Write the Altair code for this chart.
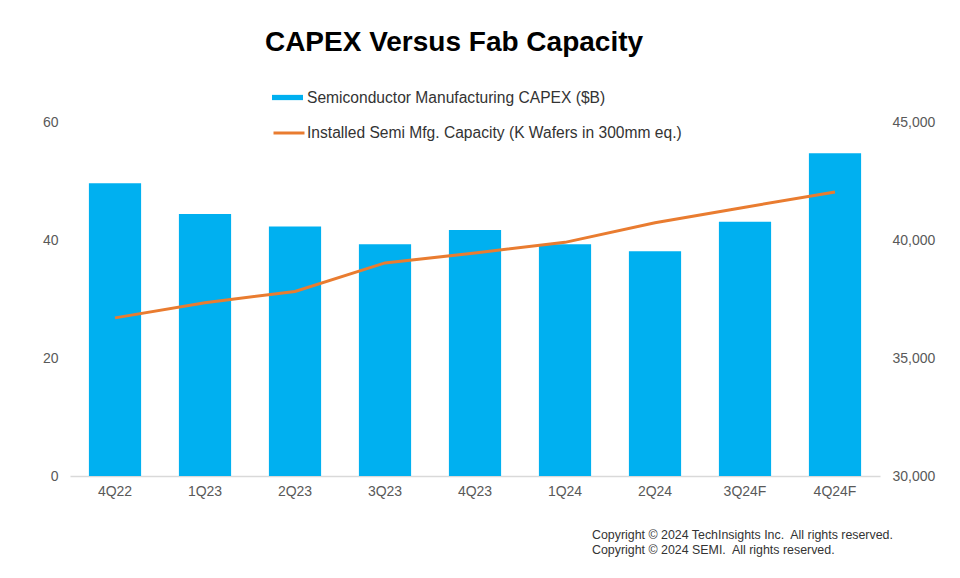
import altair as alt
import pandas as pd

quarters = ["4Q22", "1Q23", "2Q23", "3Q23", "4Q23", "1Q24", "2Q24", "3Q24F", "4Q24F"]
capex = [49.6, 44.4, 42.3, 39.3, 41.7, 39.3, 38.1, 43.1, 54.7]
capacity = [36700, 37340, 37820, 39030, 39450, 39900, 40730, 41390, 42030]
bar_label = "Semiconductor Manufacturing CAPEX ($B)"
line_label = "Installed Semi Mfg. Capacity (K Wafers in 300mm eq.)"
copyright_lines = [
    "Copyright \u00a9 2024 TechInsights Inc.\u00a0 All rights reserved.",
    "Copyright \u00a9 2024 SEMI.\u00a0 All rights reserved.",
]

FONT = "Liberation Sans"
BLUE = "#00B0F0"
ORANGE = "#E97C30"
LABEL = "#595959"

df = pd.DataFrame({
    "quarter": quarters,
    "capex": capex,
    "capacity": capacity,
    "bar_series": [bar_label] * len(quarters),
    "line_series": [line_label] * len(quarters),
})
cp = pd.DataFrame({"text": ["\n".join(copyright_lines)]})

x_enc = alt.X(
    "quarter:N", sort=quarters, title=None,
    scale=alt.Scale(paddingInner=0.42, paddingOuter=0.21),
    axis=alt.Axis(labelAngle=0, ticks=False, domain=True, domainColor="#D9D9D9",
                  domainWidth=1.5, labelColor=LABEL, labelFontSize=14, labelFont=FONT,
                  labelPadding=8, grid=False),
)

bars = alt.Chart(df).mark_bar(color=BLUE).encode(
    x=x_enc,
    y=alt.Y("capex:Q", title=None,
            scale=alt.Scale(domain=[0, 60], nice=False),
            axis=alt.Axis(values=[0, 20, 40, 60], grid=False, domain=False, ticks=False,
                          labelColor=LABEL, labelFontSize=14, labelFont=FONT, labelPadding=12,
                          orient="left")),
    fill=alt.Fill("bar_series:N",
                  scale=alt.Scale(domain=[bar_label], range=[BLUE]),
                  legend=alt.Legend(title=None, orient="none", legendX=202, legendY=-40,
                                    symbolType="M-1,-0.17H1V0.17H-1Z", symbolSize=961,
                                    symbolStrokeWidth=0, labelFontSize=15.6, labelFont=FONT,
                                    labelColor="#333333", labelOffset=4, padding=0,
                                    labelLimit=700)),
)

line = alt.Chart(df).mark_line(strokeWidth=3).encode(
    x=alt.X("quarter:N", sort=quarters),
    y=alt.Y("capacity:Q", title=None,
            scale=alt.Scale(domain=[30000, 45000], nice=False),
            axis=alt.Axis(values=[30000, 35000, 40000, 45000], format=",.0f", grid=False,
                          domain=False, ticks=False, labelColor=LABEL, labelFontSize=14,
                          labelFont=FONT, labelPadding=12, orient="right")),
    stroke=alt.Stroke("line_series:N",
                      scale=alt.Scale(domain=[line_label], range=[ORANGE]),
                      legend=alt.Legend(title=None, orient="none", legendX=202, legendY=-6,
                                        symbolType="stroke", symbolSize=961,
                                        symbolStrokeWidth=3, labelFontSize=15.6, labelFont=FONT,
                                        labelColor="#333333", labelOffset=1, padding=0,
                                        labelLimit=700)),
)

notes = alt.Chart(cp).mark_text(align="left", baseline="middle", fontSize=12.4,
                                font=FONT, color="#333333", lineBreak="\n",
                                lineHeight=15).encode(
    text="text:N",
    x=alt.value(522),
    y=alt.value(413),
)

chart = alt.layer(bars, line, notes).resolve_scale(
    y="independent", fill="independent", stroke="independent"
).properties(
    width=810,
    height=354,
    title=alt.TitleParams("CAPEX Versus Fab Capacity", anchor="middle", fontSize=28,
                          font=FONT, fontWeight="bold", color="#000000", dx=-21, dy=-21),
    autosize=alt.AutoSizeParams(type="none"),
    padding={"left": 62, "top": 114, "right": 72, "bottom": 94},
).configure_view(stroke=None)

chart.save("out.html", embed_options={"renderer": "svg", "actions": False})
